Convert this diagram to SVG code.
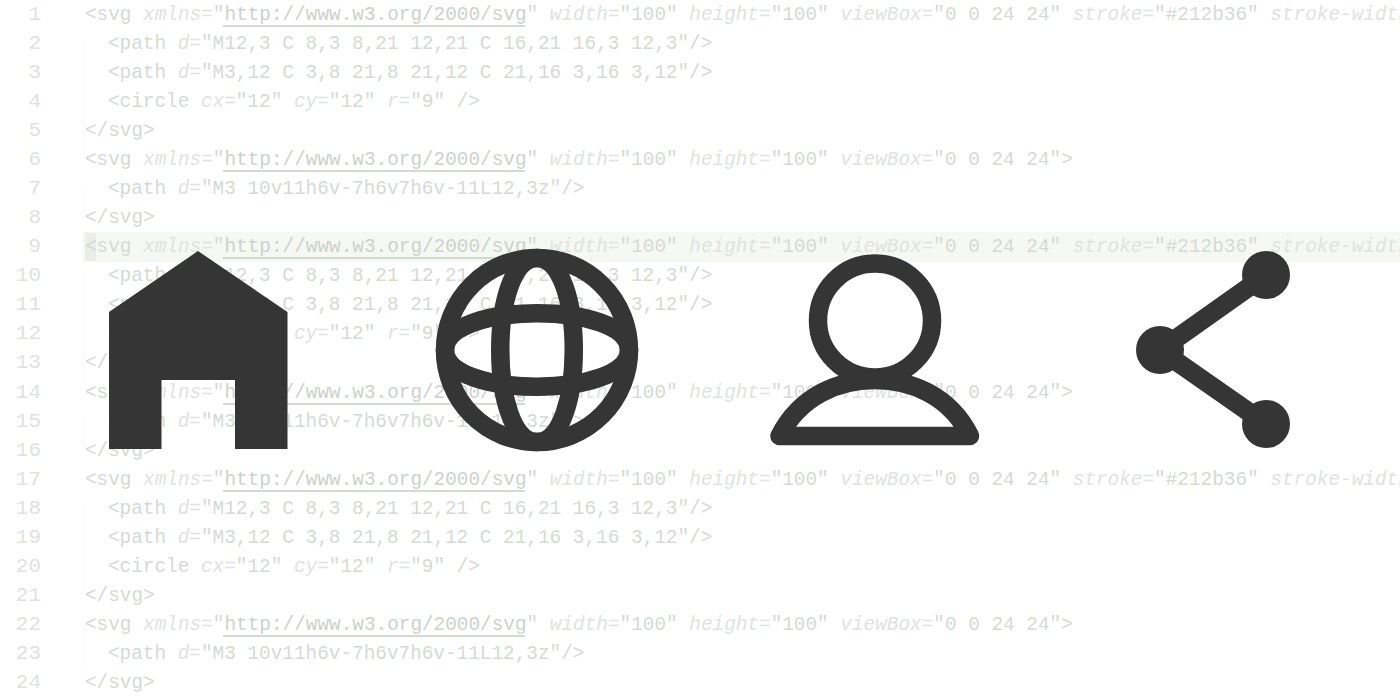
<svg xmlns="http://www.w3.org/2000/svg" width="1400" height="700" viewBox="0 0 1400 700">
<style>
.c{font-family:"Liberation Mono","DejaVu Sans Mono",monospace;font-size:21px;fill:#d6dad5}
.n{font-family:"Liberation Mono","DejaVu Sans Mono",monospace;font-size:21px;fill:#dfe2dd;text-anchor:end}
.a{font-style:italic;fill:#e0e3df}
.u{fill:#cdd2cc}
.ul{stroke:#d3dad1;stroke-width:1.8;fill:none}
.g{stroke:#f5f6f4;stroke-width:1;fill:none}
.ic{fill:#353535;stroke:none}
.st{fill:none;stroke:#353535;stroke-width:18.500;stroke-linejoin:round;stroke-linecap:round}
</style>
<defs>
<g id="l1"><text class="c" transform="translate(85,0) scale(.923,1)">&lt;svg <tspan class="a">xmlns=</tspan>"<tspan class="u">http://www.w3.org/2000/svg</tspan>" <tspan class="a">width=</tspan>"100" <tspan class="a">height=</tspan>"100" <tspan class="a">viewBox=</tspan>"0 0 24 24" <tspan class="a">stroke=</tspan>"#212b36" <tspan class="a">stroke-width</tspan></text><path class="ul" d="M223,6H525"/></g>
<g id="l6"><text class="c" transform="translate(85,0) scale(.923,1)">&lt;svg <tspan class="a">xmlns=</tspan>"<tspan class="u">http://www.w3.org/2000/svg</tspan>" <tspan class="a">width=</tspan>"100" <tspan class="a">height=</tspan>"100" <tspan class="a">viewBox=</tspan>"0 0 24 24"&gt;</text><path class="ul" d="M223,6H525"/></g>
<text id="l2" class="c" transform="translate(108,0) scale(.923,1)">&lt;path <tspan class="a">d=</tspan>"M12,3 C 8,3 8,21 12,21 C 16,21 16,3 12,3"/&gt;</text>
<text id="l3" class="c" transform="translate(108,0) scale(.923,1)">&lt;path <tspan class="a">d=</tspan>"M3,12 C 3,8 21,8 21,12 C 21,16 3,16 3,12"/&gt;</text>
<text id="l4" class="c" transform="translate(108,0) scale(.923,1)">&lt;circle <tspan class="a">cx=</tspan>"12" <tspan class="a">cy=</tspan>"12" <tspan class="a">r=</tspan>"9" /&gt;</text>
<text id="l5" class="c" transform="translate(85,0) scale(.923,1)">&lt;/svg&gt;</text>
<text id="l7" class="c" transform="translate(108,0) scale(.923,1)">&lt;path <tspan class="a">d=</tspan>"M3 10v11h6v-7h6v7h6v-11L12,3z"/&gt;</text>
</defs>
<rect width="1400" height="700" fill="#fff"/>
<g id="editor">
<rect x="83" y="232" width="1317" height="30" fill="#f6f8f4"/>
<rect x="85" y="233" width="11" height="28" fill="#ebede8"/>
<path class="g" d="M84,44V155M84,190V218M84,276V388M84,420V450M84,508V590M84,625V665"/>
<g id="numbers">
<text class="n" x="41" y="20">1</text><text class="n" x="41" y="49">2</text><text class="n" x="41" y="78">3</text><text class="n" x="41" y="107">4</text><text class="n" x="41" y="136">5</text><text class="n" x="41" y="165">6</text><text class="n" x="41" y="194">7</text><text class="n" x="41" y="223">8</text><text class="n" x="41" y="252">9</text><text class="n" x="41" y="281">10</text><text class="n" x="41" y="310">11</text><text class="n" x="41" y="339">12</text><text class="n" x="41" y="368">13</text><text class="n" x="41" y="398">14</text><text class="n" x="41" y="427">15</text><text class="n" x="41" y="456">16</text><text class="n" x="41" y="485">17</text><text class="n" x="41" y="514">18</text><text class="n" x="41" y="543">19</text><text class="n" x="41" y="572">20</text><text class="n" x="41" y="601">21</text><text class="n" x="41" y="630">22</text><text class="n" x="41" y="659">23</text><text class="n" x="41" y="688">24</text>
</g>
<use href="#l1" y="20"/><use href="#l2" y="49"/><use href="#l3" y="78"/><use href="#l4" y="107"/><use href="#l5" y="136"/><use href="#l6" y="165"/><use href="#l7" y="194"/><use href="#l5" y="223"/>
<use href="#l1" y="252"/><use href="#l2" y="281"/><use href="#l3" y="310"/><use href="#l4" y="339"/><use href="#l5" y="368"/><use href="#l6" y="398"/><use href="#l7" y="427"/><use href="#l5" y="456"/>
<use href="#l1" y="485"/><use href="#l2" y="514"/><use href="#l3" y="543"/><use href="#l4" y="572"/><use href="#l5" y="601"/><use href="#l6" y="630"/><use href="#l7" y="659"/><use href="#l5" y="688"/>
</g>
<g id="home"><path class="ic" d="M198,251L287.500,312V449H235V380H161.500V449H109V312Z"/></g>
<g id="globe"><circle class="st" cx="537" cy="350" r="92"/><path class="st" d="M537,258C488,258 488,442 537,442C586,442 586,258 537,258Z"/><path class="st" d="M445,350C445,301 629,301 629,350C629,399 445,399 445,350Z"/></g>
<g id="person"><circle class="st" cx="875" cy="320.500" r="57"/><path class="st" d="M779.500,436C800,396 838,380 875,380C912,380 950,396 970,436Z"/></g>
<g id="share"><path class="st" style="stroke-width:19;stroke-linecap:butt;stroke-linejoin:bevel" d="M1266,275L1160,350L1266,424"/><circle class="ic" cx="1266" cy="275" r="24"/><circle class="ic" cx="1160" cy="350" r="24"/><circle class="ic" cx="1266" cy="424" r="24"/></g>
</svg>
